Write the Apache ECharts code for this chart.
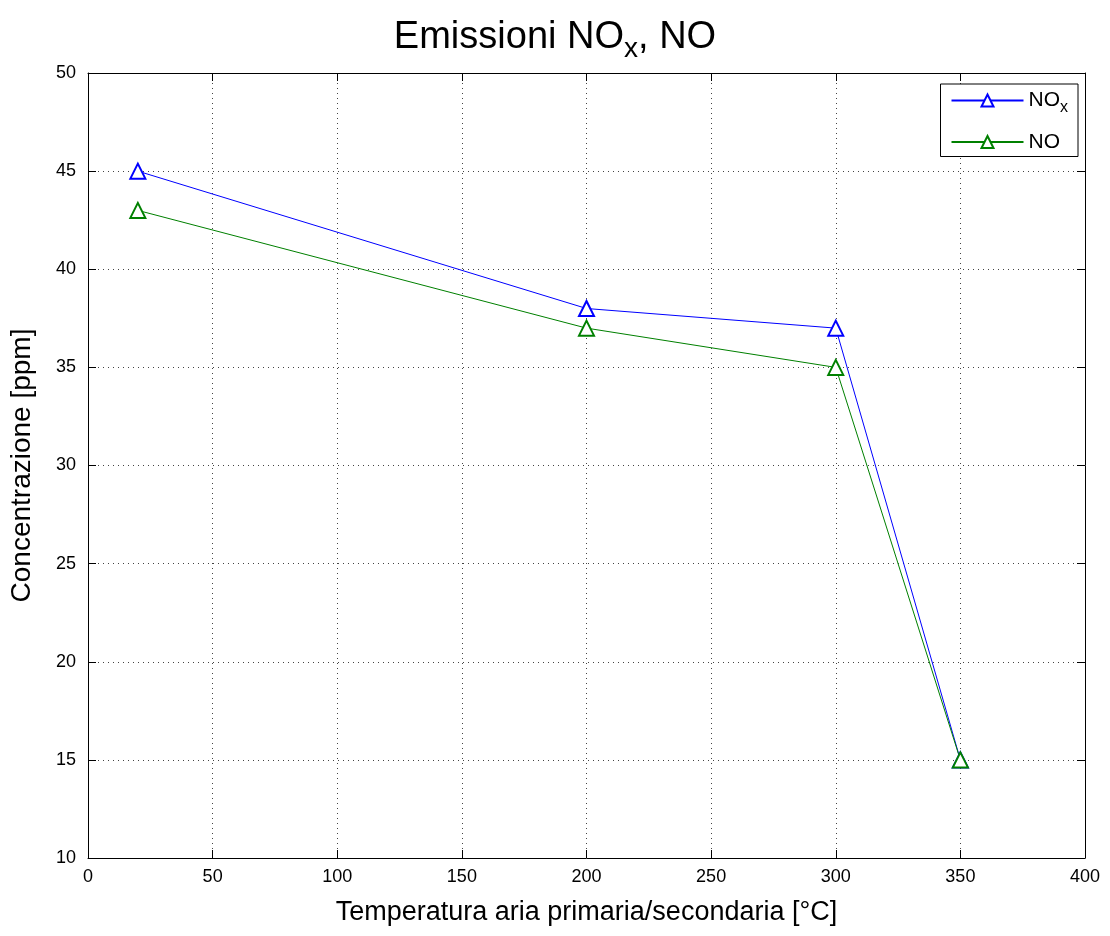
<!DOCTYPE html>
<html><head><meta charset="utf-8">
<script src="https://cdn.jsdelivr.net/npm/echarts@6/dist/echarts.min.js"></script>
<style>html,body{margin:0;padding:0;background:#fff}#c{width:1110px;height:936px}</style>
</head><body><div id="c"></div>
<script>
const temperature = [20, 200, 300, 350];
const noxValues = [45, 38, 37, 15];
const noValues = [43, 37, 35, 15];
const seriesNames = ['NOx', 'NO'];

const font = 'Liberation Sans, Arial, sans-serif';
const chart = echarts.init(document.getElementById('c'));
const rich = {
  n: {fontSize: 21, fontFamily: font, color: '#000'},
  s: {fontSize: 16, fontFamily: font, color: '#000', padding: [14, 0, 0, 0]},
  tn: {fontSize: 38, fontFamily: font, color: '#000', fontWeight: 'normal'},
  ts: {fontSize: 28, fontFamily: font, color: '#000', fontWeight: 'normal', padding: [22, 0, 0, 0]}
};
const splitStyle = {show: true, lineStyle: {color: '#444', type: [1, 4], width: 1}};
const axisCommon = {
  axisLine: {show: true, onZero: false, lineStyle: {color: '#000', width: 1}},
  axisTick: {show: true, inside: true, length: 8, lineStyle: {color: '#000'}},
  axisLabel: {fontSize: 18, fontFamily: font, color: '#000'}
};
chart.setOption({
  backgroundColor: '#fff',
  animation: false,
  title: {
    text: '{tn|Emissioni NO}{ts|x}{tn|, NO}',
    left: 'center', top: 8,
    textStyle: {rich: rich, fontWeight: 'normal'}
  },
  grid: {left: 87, right: 25, top: 73, bottom: 78, show: false},
  legend: {
    right: 32, top: 84, orient: 'vertical',
    backgroundColor: '#fff', borderColor: '#000', borderWidth: 1,
    padding: [6, 10, 4, 10],
    itemWidth: 72, itemHeight: 15, itemGap: 16,
    formatter: function (n) { return n === 'NOx' ? '{n|NO}{s|x}' : '{n|NO}'; },
    textStyle: {rich: rich, fontSize: 21, fontFamily: font}
  },
  xAxis: [
    Object.assign({}, axisCommon, {
      type: 'value', min: 0, max: 400, interval: 50, position: 'bottom',
      name: 'Temperatura aria primaria/secondaria [°C]', nameLocation: 'middle', nameGap: 41,
      nameTextStyle: {fontSize: 27, fontFamily: font, color: '#000'},
      splitLine: splitStyle,
      axisLabel: {fontSize: 18, fontFamily: font, color: '#000', margin: 10}
    }),
    Object.assign({}, axisCommon, {
      type: 'value', min: 0, max: 400, interval: 50, position: 'top',
      axisLabel: {show: false}, splitLine: {show: false}
    })
  ],
  yAxis: [
    Object.assign({}, axisCommon, {
      type: 'value', min: 10, max: 50, interval: 5, position: 'left',
      name: 'Concentrazione [ppm]', nameLocation: 'middle', nameGap: 52,
      nameTextStyle: {fontSize: 28, fontFamily: font, color: '#000'},
      splitLine: splitStyle,
      axisLabel: {fontSize: 18, fontFamily: font, color: '#000', margin: 12}
    }),
    Object.assign({}, axisCommon, {
      type: 'value', min: 10, max: 50, interval: 5, position: 'right',
      axisLabel: {show: false}, splitLine: {show: false}
    })
  ],
  series: [
    {
      name: seriesNames[0], type: 'line', symbol: 'emptyTriangle', symbolSize: 15,
      data: temperature.map((t, i) => [t, noxValues[i]]),
      lineStyle: {color: '#0000ff', width: 1}, itemStyle: {color: '#0000ff', borderWidth: 1}
    },
    {
      name: seriesNames[1], type: 'line', symbol: 'emptyTriangle', symbolSize: 15,
      data: temperature.map((t, i) => [t, noValues[i]]),
      lineStyle: {color: '#008000', width: 1}, itemStyle: {color: '#008000', borderWidth: 1}
    }
  ]
});
</script></body></html>
